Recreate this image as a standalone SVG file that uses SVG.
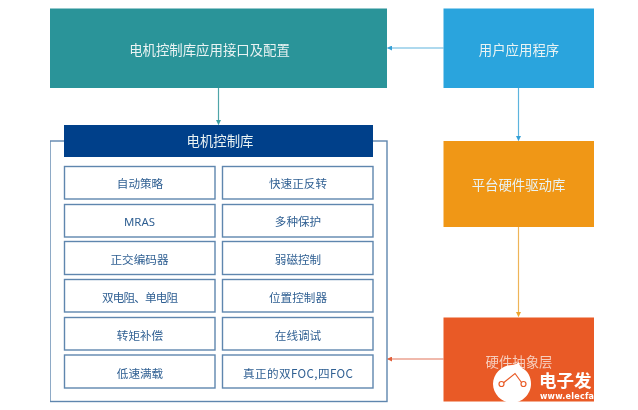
<svg xmlns="http://www.w3.org/2000/svg" width="638" height="410" viewBox="0 0 638 410">
<style>
text{font-family:"Noto Sans CJK SC","Liberation Sans",sans-serif;text-anchor:middle}
.h{fill:#e9f3f3;font-size:13.4px}
.c{fill:#fff;stroke:#5f86ae;stroke-width:1.4}
.t{fill:#2f5f92;font-size:11.6px}
.w{fill:#fff}
</style>
<defs>
<filter id="soft" x="0" y="0" width="100%" height="100%"><feGaussianBlur stdDeviation="0.3"/></filter>
<marker id="a1" markerWidth="5" markerHeight="5" refX="4.5" refY="2.5" orient="auto" markerUnits="userSpaceOnUse"><path d="M0 0L5 2.5L0 5z" fill="#36a0d6"/></marker>
<marker id="a2" markerWidth="5" markerHeight="5" refX="4.5" refY="2.5" orient="auto" markerUnits="userSpaceOnUse"><path d="M0 0L5 2.5L0 5z" fill="#3b9ea2"/></marker>
<marker id="a3" markerWidth="5" markerHeight="5" refX="4.5" refY="2.5" orient="auto" markerUnits="userSpaceOnUse"><path d="M0 0L5 2.5L0 5z" fill="#eda42e"/></marker>
<marker id="a4" markerWidth="5" markerHeight="5" refX="4.5" refY="2.5" orient="auto" markerUnits="userSpaceOnUse"><path d="M0 0L5 2.5L0 5z" fill="#e0613a"/></marker>
</defs>
<rect width="638" height="410" fill="#fff"/>
<g filter="url(#soft)">
<g id="connectors" fill="none" stroke-width="1.2">
<path d="M443.500 48H387.500" stroke="#5db4de" marker-end="url(#a1)"/>
<path d="M518.500 88V140.500" stroke="#5db4de" marker-end="url(#a1)"/>
<path d="M218.500 88V124.500" stroke="#4fa5a8" marker-end="url(#a2)"/>
<path d="M518.500 227V316.500" stroke="#eeb458" marker-end="url(#a3)"/>
<path d="M443.500 359H387.500" stroke="#e2755a" marker-end="url(#a4)"/>
</g>
<g id="api"><rect x="50" y="8.500" width="337" height="79.500" fill="#2c9499"/><text class="h" x="209.500" y="54.500">电机控制库应用接口及配置</text></g>
<g id="app"><rect x="443.500" y="8.500" width="150.500" height="79.500" fill="#29a4dd"/><text class="h" x="519" y="54.500">用户应用程序</text></g>
<g id="driver"><rect x="443.500" y="141" width="150.500" height="86" fill="#f09716"/><text class="h" x="518.500" y="190">平台硬件驱动库</text></g>
<g id="hal"><rect x="443.500" y="317.500" width="150.500" height="84" fill="#e95a26"/><text class="h" x="519" y="367" style="fill:#f6cdbd">硬件抽象层</text>
<path d="M512 365C514 365 517 364 519 362C519 364 520 366 522 368C528 371 531 377 531 384C531 394 522 403 512 403C502 403 493 394 493 384C493 374 502 365 512 365Z" class="w"/>
<path d="M502 384L515 373.500L523 384.500" fill="none" stroke="#e95a26" stroke-width="1.200"/>
<circle cx="501.500" cy="384" r="2.500" fill="#fff" stroke="#e95a26" stroke-width="1.200"/>
<circle cx="523.500" cy="384" r="2.500" fill="#fff" stroke="#e95a26" stroke-width="1.200"/>
<text x="539" y="387" class="w" style="font-size:17.500px;font-weight:700;text-anchor:start">电子发</text>
<text x="540" y="399" class="w" style="font-size:8px;font-weight:700;text-anchor:start;font-family:'DejaVu Sans',sans-serif" textLength="54">www.elecfa</text></g>
<g id="lib"><rect x="50" y="141" width="337" height="260.500" fill="#fff" stroke="#5f86ae" stroke-width="1.400"/><rect x="64" y="125" width="309" height="32" fill="#04408a"/><text class="h" x="220" y="146">电机控制库</text></g>
<g id="c1"><rect class="c" x="64.500" y="166.500" width="150.500" height="32.500"/><text class="t" x="140" y="187.500">自动策略</text></g>
<g id="c2"><rect class="c" x="222.500" y="166.500" width="150.500" height="32.500"/><text class="t" x="298" y="187.500">快速正反转</text></g>
<g id="c3"><rect class="c" x="64.500" y="204.500" width="150.500" height="32.500"/><text class="t" x="139.500" y="225.500" style="font-family:'Noto Sans','Liberation Sans',sans-serif" textLength="31" lengthAdjust="spacingAndGlyphs">MRAS</text></g>
<g id="c4"><rect class="c" x="222.500" y="204.500" width="150.500" height="32.500"/><text class="t" x="298" y="225.500">多种保护</text></g>
<g id="c5"><rect class="c" x="64.500" y="241.500" width="150.500" height="33"/><text class="t" x="139.500" y="263.500">正交编码器</text></g>
<g id="c6"><rect class="c" x="222.500" y="241.500" width="150.500" height="33"/><text class="t" x="298" y="263.500">弱磁控制</text></g>
<g id="c7"><rect class="c" x="64.500" y="279.500" width="150.500" height="32.500"/><text class="t" x="140" y="301.500" textLength="76">双电阻、单电阻</text></g>
<g id="c8"><rect class="c" x="222.500" y="279.500" width="150.500" height="32.500"/><text class="t" x="298" y="301.500">位置控制器</text></g>
<g id="c9"><rect class="c" x="64.500" y="317.500" width="150.500" height="32.500"/><text class="t" x="140" y="339.500">转矩补偿</text></g>
<g id="c10"><rect class="c" x="222.500" y="317.500" width="150.500" height="32.500"/><text class="t" x="298" y="339.500">在线调试</text></g>
<g id="c11"><rect class="c" x="64.500" y="355" width="150.500" height="33"/><text class="t" x="140" y="377.500">低速满载</text></g>
<g id="c12"><rect class="c" x="222.500" y="355" width="150.500" height="33"/><text class="t" x="298" y="377.500" textLength="110">真正的双FOC,四FOC</text></g>
</g>
</svg>
